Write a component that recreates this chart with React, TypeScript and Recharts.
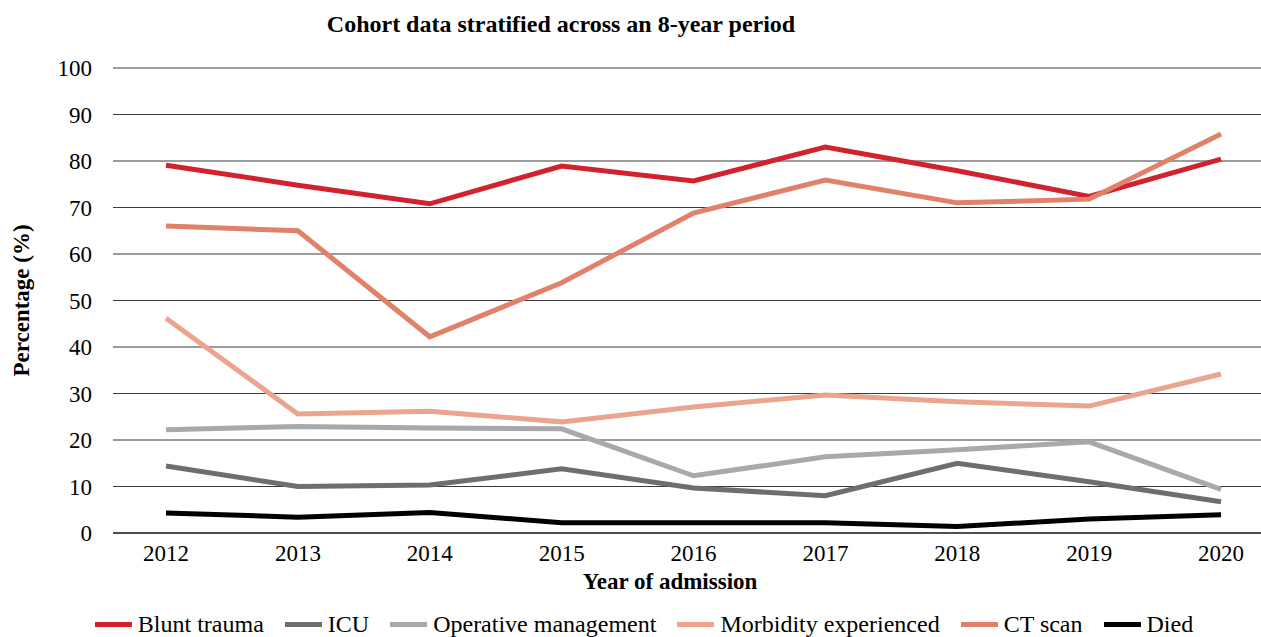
import React from "react";
import { LineChart, Line, XAxis, YAxis, CartesianGrid, Legend } from "recharts";

const years = ["2012", "2013", "2014", "2015", "2016", "2017", "2018", "2019", "2020"];
const bluntTrauma = [79.1, 74.8, 70.8, 78.9, 75.7, 83.0, 77.9, 72.4, 80.4];
const icu = [14.4, 10.0, 10.3, 13.8, 9.7, 8.0, 15.0, 11.0, 6.7];
const operative = [22.2, 22.9, 22.6, 22.4, 12.3, 16.4, 17.9, 19.6, 9.4];
const morbidity = [46.2, 25.6, 26.2, 23.9, 27.1, 29.7, 28.2, 27.3, 34.2];
const ctScan = [66.0, 65.0, 42.2, 53.8, 68.8, 75.9, 71.0, 71.8, 85.8];
const died = [4.3, 3.4, 4.4, 2.2, 2.2, 2.2, 1.4, 3.0, 3.9];
const yTicks = [0, 10, 20, 30, 40, 50, 60, 70, 80, 90, 100];

const series = [
  { key: "blunt", name: "Blunt trauma", color: "#D2222D", values: bluntTrauma },
  { key: "icu", name: "ICU", color: "#6D6E72", values: icu },
  { key: "operative", name: "Operative management", color: "#A8A9AD", values: operative },
  { key: "morbidity", name: "Morbidity experienced", color: "#EBA58E", values: morbidity },
  { key: "ct", name: "CT scan", color: "#E2816A", values: ctScan },
  { key: "died", name: "Died", color: "#000000", values: died }
];

const data = years.map((year, i) => {
  const row: Record<string, string | number> = { year };
  series.forEach((s) => (row[s.key] = s.values[i]));
  return row;
});

const font = "'Liberation Serif', 'Times New Roman', serif";

const renderLegend = () => (
  <div style={{ display: "flex", justifyContent: "center", fontFamily: font, fontSize: 24, lineHeight: "26px", color: "#000", paddingLeft: 48, marginTop: 2 }}>
    {series.map((s) => (
      <div key={s.key} style={{ display: "flex", alignItems: "center", marginRight: 21 }}>
        <span style={{ display: "inline-block", width: 37, height: 5, background: s.color, marginRight: 6 }} />
        <span>{s.name}</span>
      </div>
    ))}
  </div>
);

const App = () => {
  return (
    <div style={{ position: "absolute", left: 0, top: 0, width: 1261, height: 637, background: "#fff" }}>
      <div
        style={{
          position: "absolute",
          left: 0,
          width: 1122,
          top: 11,
          textAlign: "center",
          fontFamily: font,
          fontWeight: "bold",
          fontSize: 24
        }}
      >
        Cohort data stratified across an 8-year period
      </div>
      <LineChart width={1261} height={637} data={data} margin={{ top: 68, right: 0, bottom: 16, left: 0 }}>
        <CartesianGrid horizontal vertical={false} stroke="#3a3a3a" strokeWidth={1.2} />
        <XAxis
          dataKey="year"
          height={60}
          padding={{ left: 53, right: 40 }}
          axisLine={{ stroke: "#000", strokeWidth: 1.2 }}
          tickLine={false}
          tickSize={10}
          tick={{ fill: "#000", fontFamily: font, fontSize: 23 }}
          label={{ value: "Year of admission", position: "center", dx: -17, dy: 18, fill: "#000", fontFamily: font, fontSize: 23, fontWeight: "bold" }}
        />
        <YAxis
          domain={[0, 100]}
          ticks={yTicks}
          width={113}
          axisLine={false}
          tickLine={false}
          tickSize={19}
          tick={{ fill: "#000", fontFamily: font, fontSize: 23 }}
          label={{ value: "Percentage (%)", angle: -90, position: "center", dx: -36, fill: "#000", fontFamily: font, fontSize: 23, fontWeight: "bold" }}
        />
        <Legend verticalAlign="bottom" content={renderLegend} wrapperStyle={{ bottom: 0, left: 0, width: 1261 }} />
        {series.map((s) => (
          <Line
            key={s.key}
            type="linear"
            dataKey={s.key}
            name={s.name}
            stroke={s.color}
            strokeWidth={5}
            dot={false}
            activeDot={false}
            isAnimationActive={false}
          />
        ))}
      </LineChart>
    </div>
  );
};

export default App;
